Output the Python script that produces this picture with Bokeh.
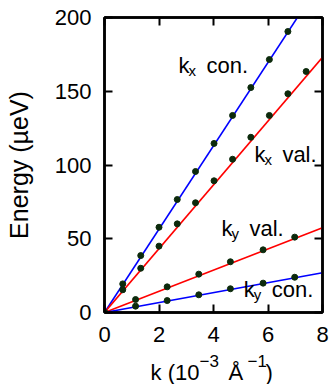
from bokeh.plotting import figure
from bokeh.models import Range1d, LinearAxis, FixedTicker, ColumnDataSource
from bokeh.layouts import column
from bokeh.core.properties import value
from bokeh.embed import file_html
from bokeh.resources import INLINE

# ---- data ----
kx_k = [0, 0.67, 1.33, 2.0, 2.67, 3.34, 4.02, 4.70, 5.37, 6.05, 6.73, 7.40]
kx_con = [0, 19.4, 38.6, 57.8, 76.6, 95.6, 114.6, 133.6, 152.5, 171.5, 190.5]
kx_val = [0, 15.4, 30.0, 45.0, 60.1, 74.4, 89.3, 103.9, 118.8, 133.6, 148.3, 163.4]

ky_k = [0, 1.14, 2.30, 3.46, 4.62, 5.82, 6.98]
ky_val = [0, 8.8, 17.4, 26.0, 34.4, 42.5, 51.1]
ky_con = [0, 4.3, 8.1, 12.0, 16.1, 19.9, 23.9]

# fitted lines: values at k = 0 and k = 8
line_k = [0, 8]
line_kx_con = [0, 226.0]
line_kx_val = [0, 173.0]
line_ky_val = [0, 57.4]
line_ky_con = [0, 26.9]

x_ticks = [0, 2, 4, 6, 8]
y_ticks = [0, 50, 100, 150, 200]

FONT = "Liberation Sans"
BLUE = "#0000ff"
RED = "#ff0000"
DOT = "#0c2a0c"
SHIFT = -8  # baseline correction (px)

W = 329
H_MAIN = 352
H_XLABEL = 32

p = figure(width=W, height=H_MAIN, output_backend="svg", toolbar_location=None, title=None,
           x_range=Range1d(0, 8), y_range=Range1d(0, 200),
           min_border_left=104, min_border_right=7, min_border_top=17, min_border_bottom=40,
           background_fill_color="white", border_fill_color="white")
p.grid.visible = False
p.outline_line_color = "black"
p.outline_line_width = 2.5

def style_axis(ax, labels=True):
    ax.axis_line_width = 2.5
    ax.axis_line_color = "black"
    ax.major_tick_in = 8
    ax.major_tick_out = 0
    ax.major_tick_line_width = 2
    ax.major_tick_line_color = "black"
    ax.minor_tick_line_color = None
    ax.major_label_text_font = FONT
    ax.major_label_text_font_size = "22px"
    ax.major_label_text_color = "black"
    if not labels:
        ax.major_label_text_font_size = "0px"
        ax.major_label_text_alpha = 0

xa = p.xaxis[0]
ya = p.yaxis[0]
xa.ticker = FixedTicker(ticks=x_ticks)
ya.ticker = FixedTicker(ticks=y_ticks)
style_axis(xa)
style_axis(ya)
xa.major_label_standoff = 14
ya.major_label_standoff = 13
ya.axis_label = "Energy (µeV)"
ya.axis_label_text_font = FONT
ya.axis_label_text_font_size = "25px"
ya.axis_label_text_font_style = "normal"
ya.axis_label_text_color = "black"
ya.axis_label_standoff = 19

top = LinearAxis(ticker=FixedTicker(ticks=x_ticks))
right = LinearAxis(ticker=FixedTicker(ticks=y_ticks))
style_axis(top, labels=False)
style_axis(right, labels=False)
p.add_layout(top, "above")
p.add_layout(right, "right")

# lines
for vals, col in [(line_kx_con, BLUE), (line_kx_val, RED), (line_ky_val, RED), (line_ky_con, BLUE)]:
    p.line(line_k, vals, line_color=col, line_width=1.6)

# points
p.scatter(kx_k[:len(kx_con)], kx_con, size=6, fill_color=DOT, line_color=DOT)
p.scatter(kx_k, kx_val, size=6, fill_color=DOT, line_color=DOT)
p.scatter(ky_k, ky_val, size=6, fill_color=DOT, line_color=DOT)
p.scatter(ky_k, ky_con, size=6, fill_color=DOT, line_color=DOT)

# curve labels
lab_x = [2.72, 5.50, 4.29, 5.11]
lab_y = [162.0, 101.5, 51.5, 10.0]
lab_sub = ["x", "x", "y", "y"]
lab_tail = ["con.", "val.", "val.", "con."]
src = ColumnDataSource(dict(x=lab_x, y=lab_y, sub=lab_sub, tail=lab_tail))
p.text("x", "y", text=value("k"), source=src, text_font=value(FONT), text_font_size="22px",
       text_baseline="alphabetic", text_align="left", text_color="black", y_offset=SHIFT)
p.text("x", "y", text="sub", source=src, text_font=value(FONT), text_font_size="15px",
       text_baseline="alphabetic", text_align="left", text_color="black", x_offset=10, y_offset=SHIFT + 5)
p.text("x", "y", text="tail", source=src, text_font=value(FONT), text_font_size="22px",
       text_baseline="alphabetic", text_align="left", text_color="black", x_offset=28, y_offset=SHIFT)

# x axis label strip:  k (10^-3 Å^-1)
q = figure(width=W, height=H_XLABEL, output_backend="svg", toolbar_location=None, title=None,
           x_range=Range1d(0, 8), y_range=Range1d(0, H_XLABEL),
           x_axis_type=None, y_axis_type=None,
           min_border_left=104, min_border_right=7, min_border_top=0, min_border_bottom=0,
           background_fill_color="white", border_fill_color="white")
q.grid.visible = False
q.outline_line_color = None
xl_text = ["k (10", "\u22123", "Å", "\u22121", ")"]
xl_size = ["22px", "17px", "22px", "17px", "22px"]
xl_dx = [0, 49, 78, 97, 115]
xl_dy = [SHIFT, SHIFT - 12, SHIFT, SHIFT - 12, SHIFT]
xsrc = ColumnDataSource(dict(x=[1.69] * 5, y=[4.0] * 5, t=xl_text, fs=xl_size, dx=xl_dx, dy=xl_dy))
q.text("x", "y", text="t", source=xsrc, text_font=value(FONT), text_font_size="fs",
       text_baseline="alphabetic", text_align="left", text_color="black",
       x_offset="dx", y_offset="dy")

layout = column(p, q, spacing=0)
open("out.html", "w").write(file_html(layout, INLINE))
